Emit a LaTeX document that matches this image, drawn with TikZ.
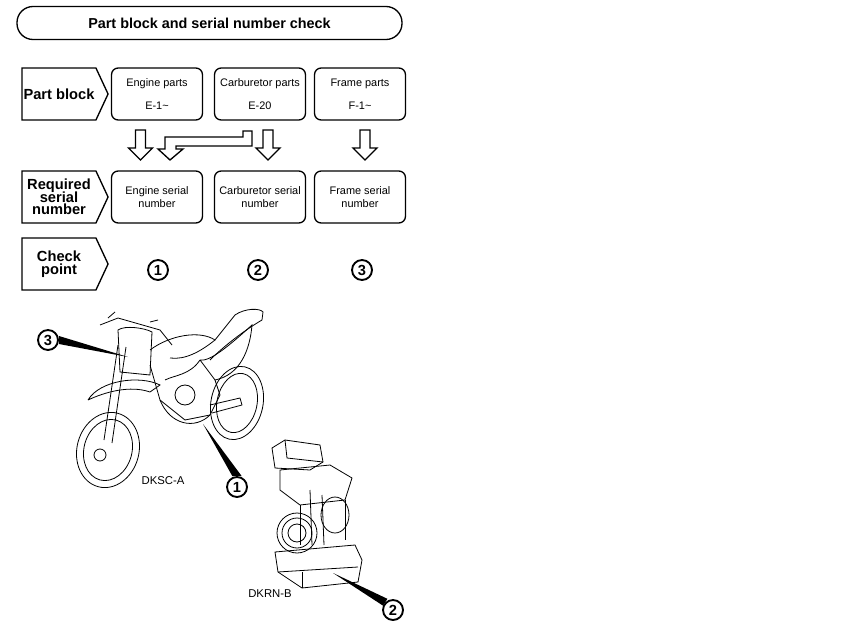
\documentclass[tikz,border=0pt]{standalone}
\usepackage{fontspec}
\setmainfont{Liberation Sans}
\usetikzlibrary{shapes.symbols,shapes.arrows}
\begin{document}
\begin{tikzpicture}[x=0.75pt,y=-0.75pt,
  lbl/.style={draw,line width=1pt,signal,signal to=east,signal pointer angle=130,minimum width=86*0.75pt,minimum height=52*0.75pt,font=\bfseries\fontsize{11}{11.5}\selectfont,align=center,inner sep=1pt},
  box/.style={draw,line width=1pt,rounded corners=5pt,minimum width=91*0.75pt,minimum height=52*0.75pt,font=\fontsize{8.2}{9.5}\selectfont,align=center},
  cnum/.style={circle,draw,line width=1.4pt,inner sep=0pt,minimum size=15pt,font=\bfseries\fontsize{11}{11}\selectfont},
  ln/.style={line width=0.6pt}
]
\useasboundingbox (0,0) rectangle (850,638);
\node[draw,line width=1pt,rounded corners=12pt,minimum width=385*0.75pt,minimum height=33*0.75pt,font=\bfseries\fontsize{10.8}{12}\selectfont] (title) at (209.5,23) {Part block and serial number check};

\node[lbl] (pb) at (59,94) {Part block};
\node[lbl] (rs) at (59,197) {Required\\[-2pt]serial\\[-2pt]number};
\node[lbl] (cp) at (59,264) {Check\\[-2pt]point};

\node[box] (e) at (157,94) {Engine parts\\[8pt]E-1\textasciitilde};
\node[box] (c) at (260,94) {Carburetor parts\\[8pt]E-20};
\node[box] (f) at (360,94) {Frame parts\\[8pt]F-1\textasciitilde};
\node[box] (es) at (157,197) {Engine serial\\number};
\node[box] (cs) at (260,197) {Carburetor serial\\number};
\node[box] (fs) at (360,197) {Frame serial\\number};

\node[cnum] (n1) at (158,270) {1};
\node[cnum] (n2) at (258,270) {2};
\node[cnum] (n3) at (362,270) {3};

% hollow arrows
\foreach \xx in {140.5,268,365}{
  \draw[line width=1pt,fill=white] (\xx-5,130) -- (\xx+5,130) -- (\xx+5,148) -- (\xx+12,148) -- (\xx,160) -- (\xx-12,148) -- (\xx-5,148) -- cycle;
}
\draw[line width=1pt,fill=white] (243,131) -- (252,131) -- (252,146) -- (176,146) -- (176,149) -- (183,149) -- (170,160) -- (158,149) -- (165,149) -- (165,137) -- (243,137) -- cycle;

% motorcycle (simplified)
\begin{scope}[ln]
\draw[rotate around={-15:(108,450)}] (108,450) ellipse (31 and 38);
\draw[rotate around={-15:(108,450)}] (108,450) ellipse (24 and 31);
\draw[rotate around={-12:(237,403)}] (237,403) ellipse (26 and 37);
\draw[rotate around={-12:(237,403)}] (237,403) ellipse (20 and 30);
\draw (100,455) circle (6);
\draw (118,345) -- (104,440) (126,347) -- (112,443);
\draw (100,325) -- (118,318) -- (160,330) -- (172,345);
\draw (108,318) -- (115,312) (150,322) -- (158,320);
\draw (118,330) .. controls (125,325) and (145,328) .. (152,332) -- (150,375) -- (120,372) -- cycle;
\draw (88,400) .. controls (100,380) and (140,375) .. (160,385) -- (150,392) .. controls (130,385) and (105,392) .. (88,400);
\draw (150,350) .. controls (170,335) and (200,330) .. (215,340) -- (235,315) .. controls (245,308) and (260,308) .. (263,312) -- (262,320) .. controls (245,330) and (225,345) .. (210,360);
\draw (215,340) .. controls (200,352) and (185,360) .. (170,358);
\draw (200,360) .. controls (210,362) and (230,345) .. (252,325) .. controls (250,350) and (240,375) .. (215,380) -- (200,360);
\draw (150,365) -- (160,400) -- (185,420) -- (210,415) -- (220,395) -- (215,380);
\draw (165,380) .. controls (175,375) and (190,375) .. (200,360);
\draw (185,395) circle (10);
\draw (160,400) .. controls (170,425) and (195,430) .. (210,415);
\draw (210,405) -- (240,398) -- (242,405) -- (212,413);
\end{scope}
\node[font=\fontsize{8.5}{9}\selectfont] (dk1) at (163,481) {DKSC-A};

% carburetor (simplified)
\begin{scope}[ln]
\draw (272,448) -- (285,440) -- (320,445) -- (323,462) -- (310,470) -- (275,468) -- cycle;
\draw (285,440) -- (287,458) -- (323,462);
\draw (280,470) -- (330,465) -- (352,478) -- (345,500) -- (300,505) -- (280,490) -- cycle;
\draw (300,505) -- (300,545) (345,500) -- (345,540);
\draw (335,515) ellipse (14 and 18);
\draw (297,533) circle (20);
\draw (297,533) circle (15);
\draw (297,533) circle (9);
\draw (275,552) -- (355,545) -- (362,560) -- (358,582) -- (302,588) -- (278,572) -- cycle;
\draw (278,572) -- (358,567);
\draw (302,588) -- (302,572);
\draw (310,490) -- (312,545) (322,495) -- (324,545);
\end{scope}
\node[font=\fontsize{8.5}{9}\selectfont] (dk2) at (270,594) {DKRN-B};

% callout numbers and arrows
\node[cnum] (c3) at (48,340) {3};
\node[cnum] (c1) at (237,487) {1};
\node[cnum] (c2) at (393,610) {2};
\coordinate (t3) at (128,357);
\coordinate (t1) at (203,424);
\coordinate (t2) at (333,573);
\fill ([yshift=3pt]c3.east) -- (t3) -- ([yshift=-3pt]c3.east) -- cycle;
\fill ([xshift=-3.5pt]c1.north) -- (t1) -- ([xshift=3.5pt]c1.north) -- cycle;
\fill ([shift={(1.6pt,2.6pt)}]c2.north west) -- (t2) -- ([shift={(-1.6pt,-2.6pt)}]c2.north west) -- cycle;
\end{tikzpicture}
\end{document}
